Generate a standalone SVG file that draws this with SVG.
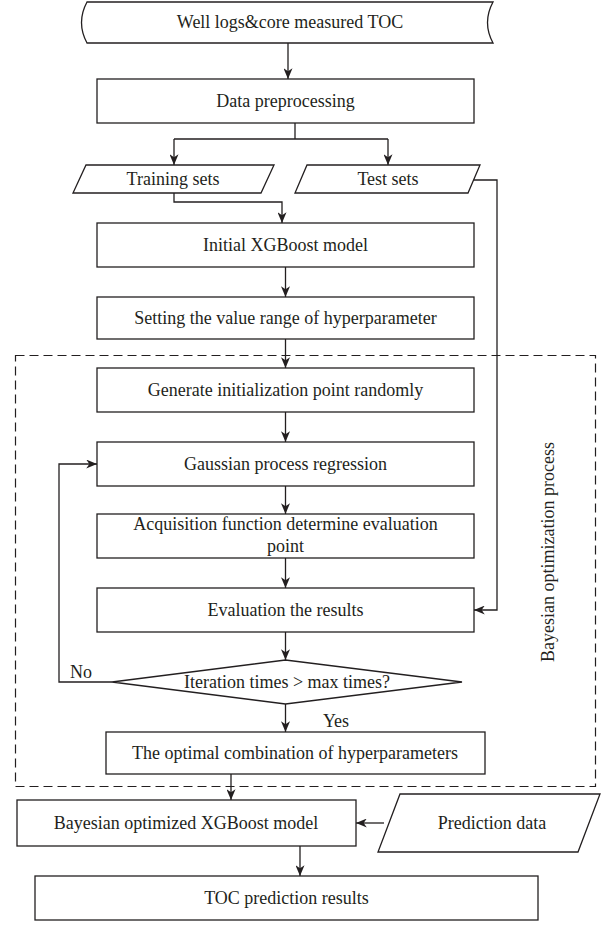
<svg xmlns="http://www.w3.org/2000/svg" width="614" height="943" viewBox="0 0 614 943">
<defs>
<marker id="arr" viewBox="0 0 12 10" refX="12" refY="5" markerWidth="12" markerHeight="9" markerUnits="userSpaceOnUse" orient="auto">
<path d="M0,0 L12,5 L0,10 L3.5,5 Z" fill="#231f20"/>
</marker>
<style>
.s{fill:#fff;stroke:#231f20;stroke-width:1.3}
.t{font-family:"Liberation Serif","Times New Roman",serif;font-size:18px;fill:#231f20;text-anchor:middle}
.c{fill:none;stroke:#231f20;stroke-width:1.3}
.a{fill:none;stroke:#231f20;stroke-width:1.3;marker-end:url(#arr)}
.d{fill:none;stroke:#231f20;stroke-width:1.2;stroke-dasharray:9,5}
</style>
</defs>
<rect width="614" height="943" fill="#fff"/>
<g id="bayes-region"><rect class="d" x="15.5" y="355.5" width="580" height="431"/>
<text class="t" transform="translate(548,552) rotate(-90)" dy="6">Bayesian optimization process</text></g>
<g id="connectors">
<path class="a" d="M288,43 V79"/>
<path class="c" d="M295,123 V139 M174,139 H388"/>
<path class="a" d="M174,139 V165"/>
<path class="a" d="M388,139 V165"/>
<path class="a" d="M174,193 V202 H282 V223"/>
<path class="a" d="M474,180 H497 V610 H474"/>
<path class="a" d="M285.5,267 V297"/>
<path class="a" d="M285.5,339 V368"/>
<path class="a" d="M285.5,412 V442"/>
<path class="a" d="M285.5,486 V514"/>
<path class="a" d="M285.5,558 V588"/>
<path class="a" d="M285.5,632 V660"/>
<path class="a" d="M112,682 H59 V464 H97"/>
<path class="a" d="M285.5,704 V732"/>
<path class="a" d="M231,774 V800"/>
<path class="a" d="M384,823 H356"/>
<path class="a" d="M300,846 V876"/>
<text class="t" x="81" y="678">No</text>
<text class="t" x="336" y="727">Yes</text>
</g>
<g id="n-input"><path class="s" d="M87,2 H493 Q482,22.5 493,43 H87 Q76,22.5 87,2 Z"/><text class="t" x="290" y="28">Well logs&amp;core measured TOC</text></g>
<g id="n-preprocess"><rect class="s" x="97" y="79" width="377" height="44"/><text class="t" x="285.5" y="107">Data preprocessing</text></g>
<g id="n-train"><path class="s" d="M86,165 H274 L261,193 H73 Z"/><text class="t" x="173" y="185">Training sets</text></g>
<g id="n-test"><path class="s" d="M307,165 H480 L468,193 H295 Z"/><text class="t" x="388" y="185">Test sets</text></g>
<g id="n-initial"><rect class="s" x="97" y="223" width="377" height="44"/><text class="t" x="285.5" y="251">Initial XGBoost model</text></g>
<g id="n-range"><rect class="s" x="97" y="297" width="377" height="42"/><text class="t" x="285.5" y="324">Setting the value range of hyperparameter</text></g>
<g id="n-generate"><rect class="s" x="97" y="368" width="377" height="44"/><text class="t" x="285.5" y="396">Generate initialization point randomly</text></g>
<g id="n-gpr"><rect class="s" x="97" y="442" width="377" height="44"/><text class="t" x="285.5" y="470">Gaussian process regression</text></g>
<g id="n-acq"><rect class="s" x="97" y="514" width="377" height="44"/><text class="t" x="285.5" y="530">Acquisition function determine evaluation</text><text class="t" x="285.5" y="552">point</text></g>
<g id="n-eval"><rect class="s" x="97" y="588" width="377" height="44"/><text class="t" x="285.5" y="616">Evaluation the results</text></g>
<g id="n-decision"><path class="s" d="M112,682 L285.5,660 L462,682 L285.5,704 Z"/><text class="t" x="287" y="688">Iteration times &gt; max times?</text></g>
<g id="n-optimal"><rect class="s" x="106" y="732" width="379" height="42"/><text class="t" x="295" y="759">The optimal combination of hyperparameters</text></g>
<g id="n-bayesxgb"><rect class="s" x="17" y="800" width="339" height="46"/><text class="t" x="186" y="829">Bayesian optimized XGBoost model</text></g>
<g id="n-pred"><path class="s" d="M400,794 H600 L578,852 H378 Z"/><text class="t" x="492" y="829">Prediction data</text></g>
<g id="n-toc"><rect class="s" x="35" y="876" width="503" height="44"/><text class="t" x="286.5" y="904">TOC prediction results</text></g>
</svg>
